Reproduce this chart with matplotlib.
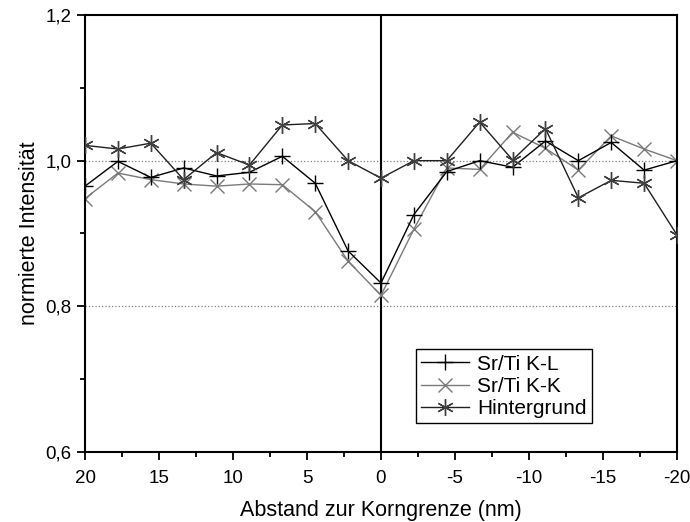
import matplotlib.pyplot as plt
import numpy as np
from matplotlib.ticker import MultipleLocator, FuncFormatter

plt.rcParams['font.family'] = ['Liberation Sans', 'DejaVu Sans']
plt.rcParams['axes.unicode_minus'] = False

# Abstand zur Korngrenze, 19 Messpunkte von 20 bis -20 nm
abstand = np.linspace(20, -20, 19)

sr_ti_kl = [0.965, 0.999, 0.977, 0.990, 0.979, 0.984, 1.006, 0.969, 0.876, 0.832,
            0.926, 0.985, 1.000, 0.991, 1.027, 1.000, 1.025, 0.987, 1.000]
sr_ti_kk = [0.948, 0.983, 0.974, 0.968, 0.965, 0.968, 0.967, 0.930, 0.862, 0.815,
            0.906, 0.990, 0.988, 1.039, 1.017, 0.987, 1.034, 1.016, 1.000]
hintergrund = [1.021, 1.016, 1.024, 0.974, 1.011, 0.994, 1.049, 1.051, 1.000, 0.976,
               1.000, 1.000, 1.053, 1.001, 1.044, 0.949, 0.973, 0.969, 0.898]

fig = plt.figure(figsize=(6.9, 5.22), dpi=100)
ax = fig.add_axes([85 / 690, 1 - 452 / 522, 592 / 690, 437 / 522])

# Referenzlinien
ax.axhline(1.0, color='grey', linestyle=':', linewidth=0.9, zorder=1)
ax.axhline(0.8, color='grey', linestyle=':', linewidth=0.9, zorder=1)
ax.axvline(0, color='black', linewidth=1.5, zorder=1)

ax.plot(abstand, sr_ti_kl, color='black', linewidth=1, marker='+', markersize=11,
        markeredgewidth=1, label='Sr/Ti K-L', zorder=3)
ax.plot(abstand, sr_ti_kk, color='#7a7a7a', linewidth=1, marker='x', markersize=10,
        markeredgewidth=1, label='Sr/Ti K-K', zorder=2)
ax.plot(abstand, hintergrund, color='#202020', linewidth=1, marker=(6, 2, 0), markersize=12,
        markeredgewidth=1, markeredgecolor='#404040', label='Hintergrund', zorder=3)

ax.set_xlim(20, -20)
ax.set_ylim(0.6, 1.2)
ax.xaxis.set_major_locator(MultipleLocator(5))
ax.xaxis.set_minor_locator(MultipleLocator(2.5))
ax.yaxis.set_major_locator(MultipleLocator(0.2))
ax.yaxis.set_minor_locator(MultipleLocator(0.1))
ax.yaxis.set_major_formatter(FuncFormatter(lambda v, p: f"{v:.1f}".replace('.', ',')))

ax.tick_params(which='major', direction='out', length=6, width=1.3, labelsize=13.5)
ax.tick_params(which='minor', direction='out', length=3.5, width=1.3)
ax.tick_params(axis='x', which='major', pad=7)
ax.tick_params(top=False, right=False)
for side in ax.spines.values():
    side.set_linewidth(1.5)

ax.set_xlabel('Abstand zur Korngrenze (nm)', fontsize=15.5, labelpad=9)
ax.set_ylabel('normierte Intensität', fontsize=15.5, labelpad=4)

leg = ax.legend(loc='lower left', bbox_to_anchor=(0.559, 0.066), fontsize=15,
                frameon=True, fancybox=False, edgecolor='black', framealpha=1,
                handlelength=2.3, borderpad=0.25, labelspacing=0.15, handletextpad=0.4,
                borderaxespad=0)
leg.get_frame().set_linewidth(1)

fig.savefig('out.png', dpi=100)
